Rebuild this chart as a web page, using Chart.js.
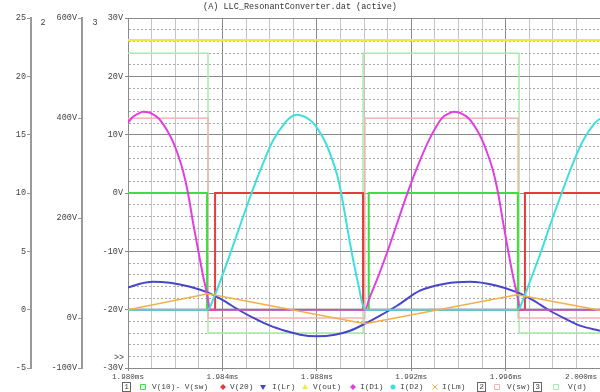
<!DOCTYPE html>
<html>
<head>
<meta charset="utf-8">
<script src="https://cdn.jsdelivr.net/npm/chart.js@4.4.1/dist/chart.umd.min.js"></script>
<style>
  html, body { margin: 0; padding: 0; background: #fff; }
  #wrap { width: 600px; height: 392px; }
</style>
</head>
<body>
<div id="wrap"><canvas id="llcChart" width="600" height="392"></canvas></div>
<script>
// Times are in microseconds (1980 = 1.980ms)
const TIME_MIN = 1980;
const TIME_MAX = 2000;

// Axis 1 traces
const vDiffTime = [1980, 1983.35, 1983.35, 1990.2, 1990.2, 1996.52, 1996.52, 2000];
const vDiffVals = [10, 10, 0, 0, 10, 10, 0, 0];

const v20Time = [1980, 1983.69, 1983.69, 1989.96, 1989.96, 1996.82, 1996.82, 2000];
const v20Vals = [0, 0, 10, 10, 0, 0, 10, 10];

const iLrTime = [1980, 1980.51, 1981.06, 1981.78, 1982.63, 1983.39, 1983.98, 1984.75, 1985.38, 1986.02, 1986.65, 1987.29,
                 1988.01, 1988.77, 1989.41, 1989.96, 1990.68, 1991.40, 1992.37, 1993.43, 1994.49, 1995.55, 1996.53,
                 1997.12, 1997.88, 1998.52, 1999.15, 2000];
const iLrVals = [1.89, 2.23, 2.40, 2.31, 1.97, 1.46, 0.86, -0.09, -0.77, -1.37, -1.80, -2.14,
                 -2.27, -2.14, -1.80, -1.29, -0.51, 0.34, 1.63, 2.23, 2.40, 2.10, 1.46,
                 0.86, -0.09, -0.77, -1.37, -1.80];

const vOutTime = [1980, 2000];
const vOutVals = [23.1, 23.1];

const iD1Time = [1980, 1980.21, 1980.42, 1980.64, 1980.85, 1981.06, 1981.27, 1981.48, 1981.69, 1981.91, 1982.12, 1982.33,
                 1982.54, 1982.75, 1982.97, 1983.18, 1983.31, 1983.39, 1983.47,
                 1990.04, 1990.25, 1990.55, 1991.02, 1991.44, 1991.86, 1992.33, 1992.80, 1993.31, 1993.56, 1993.81,
                 1993.98, 1994.19, 1994.41, 1994.62, 1994.83, 1995.04, 1995.25, 1995.47, 1995.68, 1995.89, 1996.10,
                 1996.31, 1996.44, 1996.53, 1996.61, 2000];
const iD1Vals = [16.03, 16.54, 16.80, 16.97, 16.93, 16.76, 16.46, 15.94, 15.26, 14.40, 13.29, 11.91,
                 10.03, 7.54, 5.14, 2.91, 1.71, 0.86, 0,
                 0, 1.11, 2.57, 5.14, 7.63, 10.11, 12.60, 14.74, 16.46, 16.80, 16.97,
                 16.93, 16.76, 16.46, 15.94, 15.26, 14.40, 13.29, 11.91, 10.03, 7.54, 5.14,
                 2.91, 1.71, 0.86, 0, 0];

const iD2Time = [1980, 1983.39, 1983.60, 1983.90, 1984.36, 1984.79, 1985.21, 1985.68, 1986.14, 1986.65, 1986.91, 1987.16,
                 1987.37, 1987.58, 1987.80, 1988.01, 1988.22, 1988.43, 1988.64, 1988.86, 1989.03, 1989.24, 1989.45,
                 1989.66, 1989.79, 1989.87, 1989.96, 1990.04,
                 1996.53, 1996.74, 1997.03, 1997.50, 1997.92, 1998.35, 1998.81, 1999.28, 1999.79, 2000];
const iD2Vals = [0, 0, 0.86, 2.40, 4.97, 7.46, 9.86, 12.34, 14.49, 16.03, 16.54, 16.71,
                 16.63, 16.46, 16.11, 15.60, 14.91, 14.06, 12.94, 11.57, 10.03, 7.63, 5.23,
                 3.09, 1.89, 1.03, 0.34, 0,
                 0, 0.86, 2.40, 4.97, 7.46, 9.86, 12.34, 14.49, 16.03, 16.37];

const iLmTime = [1980, 1983.39, 1990.04, 1996.49, 2000];
const iLmVals = [0.0, 1.37, -1.20, 1.29, -0.05];

// Axis 2 trace
const vSwTime = [1980, 1983.39, 1983.39, 1990.04, 1990.04, 1996.53, 1996.53, 2000];
const vSwVals = [400, 400, 0, 0, 400, 400, 0, 0];

// Axis 3 trace
const vdTime = [1980, 1983.39, 1983.39, 1989.96, 1989.96, 1996.57, 1996.57, 2000];
const vdVals = [24, 24, -24, -24, 24, 24, -24, -24];

// Tick labels
const xTickLabels = ['1.980ms', '1.984ms', '1.988ms', '1.992ms', '1.996ms', '2.000ms'];
const y1TickValues = [-5, 0, 5, 10, 15, 20, 25];
const y1TickLabels = ['-5', '0', '5', '10', '15', '20', '25'];
const y2TickValues = [-100, 0, 200, 400, 600];
const y2TickLabels = ['-100V', '0V', '200V', '400V', '600V'];
const y3TickValues = [-30, -20, -10, 0, 10, 20, 30];
const y3TickLabels = ['-30V', '-20V', '-10V', '0V', '10V', '20V', '30V'];

const FONT_FAMILY = '"Liberation Mono", "DejaVu Sans Mono", monospace';
const TEXT_COLOR = '#444';
const MAJOR_GRID = '#8a8a8a';
const MINOR_GRID = '#c4c4c4';

function toPoints(times, vals) {
    return times.map((t, i) => ({ x: t, y: vals[i] }));
}

const traces = [
    { label: 'V(10)- V(sw)', time: vDiffTime, vals: vDiffVals, axis: 'y1', color: '#3ede3e', width: 2, marker: 'rect' },
    { label: 'V(20)', time: v20Time, vals: v20Vals, axis: 'y1', color: '#e43c3c', width: 2, marker: 'rectRot' },
    { label: 'I(Lr)', time: iLrTime, vals: iLrVals, axis: 'y1', color: '#4646c8', width: 2, marker: 'triangleDown', smooth: true },
    { label: 'V(out)', time: vOutTime, vals: vOutVals, axis: 'y1', color: '#f0ec3c', width: 2.5, marker: 'triangle' },
    { label: 'I(D1)', time: iD1Time, vals: iD1Vals, axis: 'y1', color: '#e040e0', width: 2, marker: 'rectRot', smooth: true },
    { label: 'I(D2)', time: iD2Time, vals: iD2Vals, axis: 'y1', color: '#40dede', width: 2, marker: 'circle', smooth: true },
    { label: 'I(Lm)', time: iLmTime, vals: iLmVals, axis: 'y1', color: '#f0b048', width: 1.5, marker: 'cross' },
    { label: 'V(sw)', time: vSwTime, vals: vSwVals, axis: 'y2', color: '#f2b4b4', width: 1.5, marker: 'rect', under: true },
    { label: 'V(d)', time: vdTime, vals: vdVals, axis: 'y3', color: '#a8eaa8', width: 1.5, marker: 'rect', under: true }
];

// later traces are painted over earlier ones, the faint ones stay underneath
const datasets = traces.map((tr, i) => ({
    label: tr.label,
    data: toPoints(tr.time, tr.vals),
    yAxisID: tr.axis,
    borderColor: tr.color,
    backgroundColor: tr.color,
    borderWidth: tr.width,
    pointRadius: 0,
    fill: false,
    tension: 0,
    cubicInterpolationMode: tr.smooth ? 'monotone' : 'default',
    order: tr.under ? 100 + i : -i
}));

const isMajorX = v => Math.round(v - TIME_MIN) % 4 === 0;

// Small extra texts, boxed axis numbers and the legend row at the bottom
const pspiceDecor = {
    id: 'pspiceDecor',
    afterDraw(chart) {
        const ctx = chart.ctx;
        ctx.save();
        ctx.fillStyle = TEXT_COLOR;
        ctx.textBaseline = 'middle';

        // axis numbers and the ">>" marker
        ctx.font = '8.5px ' + FONT_FAMILY;
        ctx.textAlign = 'center';
        ctx.fillText('2', 43, 23);
        ctx.fillText('3', 95, 23);
        ctx.fillText('>>', 119, 358);

        // last x label, kept inside the canvas
        const xs = chart.scales.x;
        ctx.font = '7.6px ' + FONT_FAMILY;
        ctx.textAlign = 'right';
        ctx.fillText(xTickLabels[xTickLabels.length - 1], 597, xs.top + 9);

        // legend
        const y = 387;
        ctx.font = '7.8px ' + FONT_FAMILY;
        const drawBox = (n, x) => {
            ctx.strokeStyle = '#666';
            ctx.lineWidth = 1;
            ctx.strokeRect(x + 0.5, y - 4.5, 8, 9);
            ctx.textAlign = 'center';
            ctx.fillStyle = TEXT_COLOR;
            ctx.fillText(n, x + 4.5, y);
        };
        const drawMarker = (shape, color, cx) => {
            ctx.fillStyle = color;
            ctx.strokeStyle = color;
            ctx.lineWidth = 1;
            ctx.beginPath();
            if (shape === 'rect') {
                ctx.rect(cx - 2.5, y - 2.5, 5, 5);
                ctx.stroke();
                return;
            }
            if (shape === 'rectRot') {
                ctx.moveTo(cx, y - 3); ctx.lineTo(cx + 3, y); ctx.lineTo(cx, y + 3); ctx.lineTo(cx - 3, y);
            } else if (shape === 'triangleDown') {
                ctx.moveTo(cx - 3, y - 2); ctx.lineTo(cx + 3, y - 2); ctx.lineTo(cx, y + 3);
            } else if (shape === 'triangle') {
                ctx.moveTo(cx - 3, y + 2); ctx.lineTo(cx + 3, y + 2); ctx.lineTo(cx, y - 3);
            } else if (shape === 'circle') {
                ctx.arc(cx, y, 2.5, 0, Math.PI * 2);
            } else {
                ctx.moveTo(cx - 2.5, y - 2.5); ctx.lineTo(cx + 2.5, y + 2.5);
                ctx.moveTo(cx + 2.5, y - 2.5); ctx.lineTo(cx - 2.5, y + 2.5);
                ctx.stroke();
                return;
            }
            ctx.closePath();
            ctx.fill();
        };

        const markerX = [143, 223, 263, 305, 353, 393, 435, 497, 556];
        const labelX = [152, 230, 272, 313, 360, 400, 442, 507, 568];
        drawBox('1', 122);
        drawBox('2', 477);
        drawBox('3', 533);
        traces.forEach((tr, i) => {
            drawMarker(tr.marker, tr.color, markerX[i]);
            ctx.fillStyle = TEXT_COLOR;
            ctx.textAlign = 'left';
            ctx.fillText(tr.label, labelX[i], y);
        });
        ctx.restore();
    }
};

const ctx = document.getElementById('llcChart').getContext('2d');

new Chart(ctx, {
    type: 'line',
    data: { datasets: datasets },
    options: {
        responsive: false,
        animation: false,
        events: [],
        layout: { padding: 0 },
        plugins: {
            legend: { display: false },
            tooltip: { enabled: false },
            title: {
                display: true,
                text: '(A) LLC_ResonantConverter.dat (active)',
                color: '#333',
                font: { family: FONT_FAMILY, size: 8.5, weight: 'normal' },
                padding: { top: 2, bottom: 6 }
            }
        },
        scales: {
            x: {
                type: 'linear',
                min: TIME_MIN,
                max: TIME_MAX,
                ticks: {
                    stepSize: 1,
                    autoSkip: false,
                    maxRotation: 0,
                    padding: 1,
                    color: TEXT_COLOR,
                    font: { family: FONT_FAMILY, size: 7.6 },
                    callback: function (value) {
                        const v = Math.round(value);
                        if (!isMajorX(v) || v === TIME_MAX) return '';
                        return xTickLabels[(v - TIME_MIN) / 4];
                    }
                },
                grid: {
                    color: c => (c.tick && isMajorX(c.tick.value)) ? MAJOR_GRID : MINOR_GRID,
                    tickColor: c => (c.tick && isMajorX(c.tick.value)) ? MAJOR_GRID : 'rgba(0,0,0,0)',
                    tickLength: 3,
                    lineWidth: 1
                },
                border: { color: MAJOR_GRID, width: 1 },
                afterFit: function (scale) {
                    scale.height = 24;
                    scale.paddingLeft = 0;
                    scale.paddingRight = 0;
                }
            },
            y1: {
                type: 'linear',
                position: 'left',
                weight: 2,
                min: -5,
                max: 25,
                afterBuildTicks: axis => { axis.ticks = y1TickValues.map(v => ({ value: v })); },
                ticks: {
                    padding: 1,
                    color: TEXT_COLOR,
                    font: { family: FONT_FAMILY, size: 8.5 },
                    callback: value => y1TickLabels[y1TickValues.indexOf(value)]
                },
                grid: { drawOnChartArea: false, tickLength: 4, tickColor: '#999', lineWidth: 1 },
                border: { color: '#999', width: 2 },
                afterFit: function (scale) { scale.width = 31; }
            },
            y2: {
                type: 'linear',
                position: 'left',
                weight: 1,
                min: -100,
                max: 600,
                afterBuildTicks: axis => { axis.ticks = y2TickValues.map(v => ({ value: v })); },
                ticks: {
                    padding: 1,
                    color: TEXT_COLOR,
                    font: { family: FONT_FAMILY, size: 8.5 },
                    callback: value => y2TickLabels[y2TickValues.indexOf(value)]
                },
                grid: { drawOnChartArea: false, tickLength: 4, tickColor: '#999', lineWidth: 1 },
                border: { color: '#999', width: 2 },
                afterFit: function (scale) { scale.width = 51; }
            },
            y3: {
                type: 'linear',
                position: 'left',
                weight: 0,
                min: -30,
                max: 30,
                ticks: {
                    stepSize: 2,
                    autoSkip: false,
                    padding: 2,
                    color: TEXT_COLOR,
                    font: { family: FONT_FAMILY, size: 8.5 },
                    callback: value => {
                        const idx = y3TickValues.indexOf(value);
                        return idx >= 0 ? y3TickLabels[idx] : '';
                    }
                },
                grid: {
                    color: c => (c.tick && c.tick.value % 10 === 0) ? MAJOR_GRID : '#a8a8a8',
                    tickColor: c => (c.tick && c.tick.value % 10 === 0) ? MAJOR_GRID : 'rgba(0,0,0,0)',
                    tickLength: 3,
                    lineWidth: 1
                },
                border: {
                    color: MAJOR_GRID,
                    width: 1,
                    dash: c => (c.tick && c.tick.value % 10 !== 0) ? [2, 2] : []
                },
                afterFit: function (scale) { scale.width = 46; }
            }
        }
    },
    plugins: [pspiceDecor]
});
</script>
</body>
</html>
